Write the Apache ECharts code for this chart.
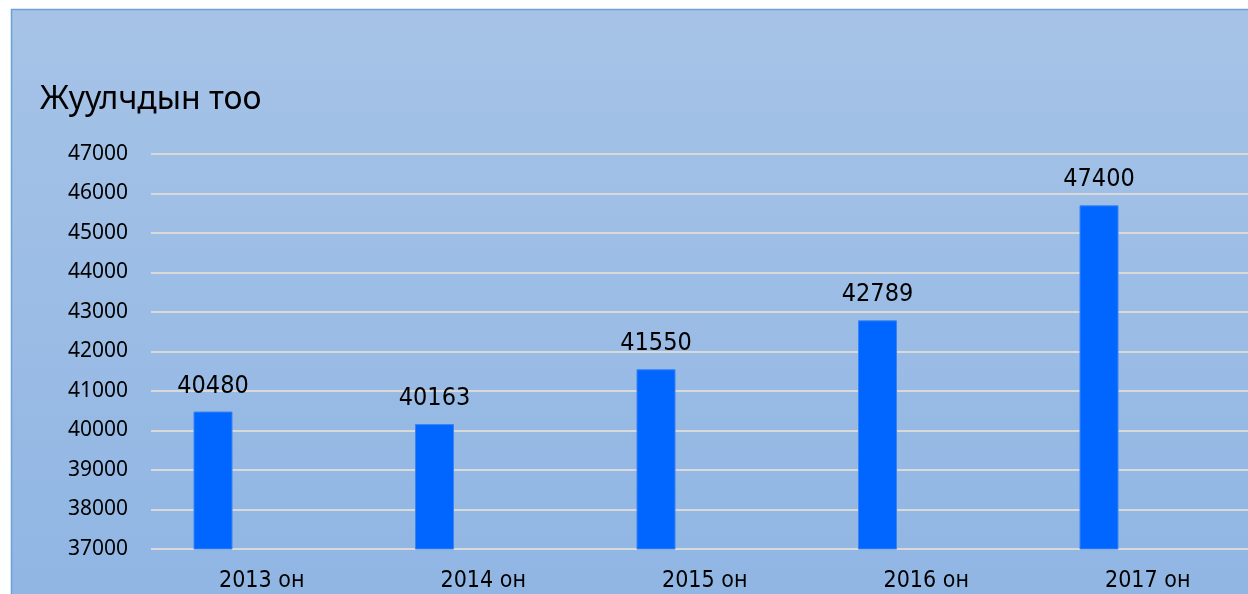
<!DOCTYPE html>
<html>
<head>
    <meta charset="utf-8">
    <title>ECharts</title>
    <script src="https://cdn.jsdelivr.net/npm/echarts@6/dist/echarts.min.js"></script>
    <style>
        html, body { margin: 0; padding: 0; background: #fff; }
    </style>
</head>
<body>
    <div id="main" style="width: 1248px;height:594px;"></div>
    <script type="text/javascript">
        var years = ['2013 он', '2014 он', '2015 он', '2016 он', '2017 он'];
        var tourists = [40480, 40163, 41550, 42789, 45700];
        // labels as printed above the bars (last one differs from the bar height)
        var barLabels = ['40480', '40163', '41550', '42789', '47400'];

        var narrow = "'Liberation Sans Narrow', 'DejaVu Sans Condensed', sans-serif";
        var myChart = echarts.init(document.getElementById('main'));

        var option = {
            backgroundColor: '#fff',
            animation: false,
            graphic: [{
                type: 'rect',
                z: -10,
                shape: { x: 11.5, y: 9.5, width: 1260, height: 620 },
                style: {
                    fill: {
                        type: 'linear', x: 0, y: 0, x2: 0, y2: 1,
                        colorStops: [
                            { offset: 0, color: '#a6c3e7' },
                            { offset: 1, color: '#8fb5e3' }
                        ]
                    },
                    stroke: '#6d9fd8',
                    lineWidth: 1.5
                }
            }],
            title: {
                text: 'Жуулчдын тоо',
                left: 35,
                top: 79,
                textStyle: {
                    color: '#000',
                    fontWeight: 'normal',
                    fontFamily: 'Noto Sans',
                    fontSize: 32
                }
            },
            grid: {
                left: 151,
                width: 1107.5,
                top: 154,
                bottom: 45,
                outerBoundsMode: 'none',
                containLabel: false
            },
            xAxis: {
                type: 'category',
                data: years,
                axisLine: { show: false },
                axisTick: { show: false },
                axisLabel: {
                    margin: 21,
                    color: '#000',
                    fontFamily: narrow,
                    fontSize: 23,
                    lineHeight: 23
                }
            },
            yAxis: {
                type: 'value',
                min: 37000,
                max: 47000,
                interval: 1000,
                axisLine: { show: false },
                axisTick: { show: false },
                axisLabel: {
                    margin: 23,
                    color: '#000',
                    fontFamily: 'Noto Sans',
                    fontSize: 21,
                    formatter: function (v) { return String(v); }
                },
                splitLine: {
                    lineStyle: { color: '#d9d9d9', width: 2 }
                }
            },
            series: [{
                type: 'bar',
                data: tourists,
                barWidth: 39,
                barGap: '150%',
                itemStyle: {
                    color: '#0066ff',
                    borderColor: '#3b84f0',
                    borderWidth: 1
                },
                label: {
                    show: true,
                    position: 'top',
                    distance: 13,
                    color: '#000',
                    fontFamily: narrow,
                    fontSize: 25,
                    lineHeight: 25,
                    formatter: function (p) { return barLabels[p.dataIndex]; }
                }
            }, {
                type: 'bar',
                data: years.map(function () { return '-'; }),
                barWidth: 39
            }]
        };

        myChart.setOption(option);
    </script>
</body>
</html>
